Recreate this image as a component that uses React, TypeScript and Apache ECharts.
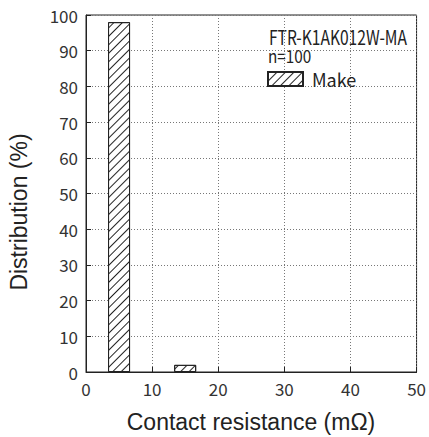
import React, { useEffect, useRef } from "react";
import * as echarts from "echarts";

const binCenters = [5, 15];
const distribution = [98, 2];
const seriesName = "Make";
const partNumber = "FTR-K1AK012W-MA";
const sampleLabel = "n=100";
const xTitle = "Contact resistance (mΩ)";
const yTitle = "Distribution (%)";

export default function App() {
  const ref = useRef<HTMLDivElement>(null);
  useEffect(() => {
    const chart = echarts.init(ref.current!, null, { renderer: "svg" });
    const labelFont = "'Noto Sans CJK JP', 'Noto Sans', sans-serif";
    const titleFont = "'Liberation Sans', Arial, sans-serif";
    const decal = {
      symbol: "rect",
      symbolSize: 1,
      dashArrayX: [1, 0],
      dashArrayY: [1, 5],
      rotation: -Math.PI / 4,
      color: "#222",
      backgroundColor: "#fff",
    };
    chart.setOption({
      animation: false,
      grid: {
        left: 86,
        right: 11,
        top: 15,
        bottom: 65,
        show: true,
        borderColor: "#222",
        borderWidth: 1,
        backgroundColor: "transparent",
      },
      legend: {
        data: [{ name: seriesName, icon: "rect" }],
        left: 262,
        top: 65,
        itemWidth: 35,
        itemHeight: 14,
        itemGap: 10,
        textStyle: { fontSize: 18, color: "#222", fontFamily: labelFont, padding: [0, 0, 0, 4] },
      },
      xAxis: {
        type: "value",
        min: 0,
        max: 50,
        interval: 10,
        axisLine: { lineStyle: { color: "#222" } },
        axisTick: { inside: true, length: 5, lineStyle: { color: "#222" } },
        axisLabel: { fontSize: 17, color: "#333", fontFamily: labelFont, margin: 8 },
        splitLine: { show: true, lineStyle: { type: [1, 2], color: "#777" } },
      },
      yAxis: {
        type: "value",
        min: 0,
        max: 100,
        interval: 10,
        axisLine: { show: true, lineStyle: { color: "#222" } },
        axisTick: { show: true, inside: true, length: 5, lineStyle: { color: "#222" } },
        axisLabel: { fontSize: 17, color: "#333", fontFamily: labelFont, margin: 8 },
        splitLine: { show: true, lineStyle: { type: [1, 2], color: "#777" } },
      },
      series: [
        {
          name: seriesName,
          type: "bar",
          barWidth: 22,
          data: binCenters.map((c, i) => [c, distribution[i]]),
          itemStyle: { color: "#fff", borderColor: "#222", borderWidth: 1, decal },
        },
      ],
      graphic: [
        {
          type: "text",
          x: 269,
          y: 36,
          scaleX: 0.78,
          style: {
            text: partNumber,
            fontSize: 20,
            fill: "#222",
            fontFamily: labelFont,
            verticalAlign: "middle",
          },
        },
        {
          type: "text",
          x: 268,
          y: 55,
          scaleX: 0.85,
          style: {
            text: sampleLabel,
            fontSize: 18,
            fill: "#222",
            fontFamily: labelFont,
            verticalAlign: "middle",
          },
        },
        {
          type: "text",
          x: 251,
          y: 422,
          style: {
            text: xTitle,
            fontSize: 23,
            fill: "#222",
            fontFamily: titleFont,
            align: "center",
            verticalAlign: "middle",
          },
        },
        {
          type: "text",
          x: 19,
          y: 212,
          rotation: Math.PI / 2,
          style: {
            text: yTitle,
            fontSize: 23,
            fill: "#222",
            fontFamily: titleFont,
            align: "center",
            verticalAlign: "middle",
          },
        },
      ],
    });
    return () => chart.dispose();
  }, []);
  return <div ref={ref} style={{ width: 429, height: 437, position: "absolute", left: 0, top: 0 }} />;
}
